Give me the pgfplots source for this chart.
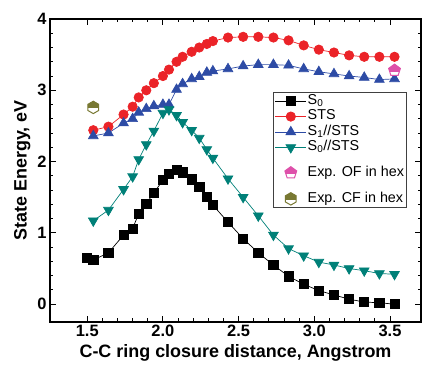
\documentclass[border=0pt]{standalone}
\usepackage{fontspec}
\setmainfont{Liberation Sans}
\usepackage{pgfplots}
\pgfplotsset{compat=1.18}
\definecolor{cSTS}{RGB}{235,35,40}
\definecolor{cS1}{RGB}{45,75,165}
\definecolor{cS0S}{RGB}{0,128,120}
\definecolor{cOF}{RGB}{222,80,170}
\definecolor{cCF}{RGB}{120,120,50}
\pgfdeclareplotmark{halfpent}{%
  \def\hpath{\pgfpathmoveto{\pgfpointpolar{90}{\pgfplotmarksize}}%
   \pgfpathlineto{\pgfpointpolar{162}{\pgfplotmarksize}}%
   \pgfpathlineto{\pgfpointpolar{234}{\pgfplotmarksize}}%
   \pgfpathlineto{\pgfpointpolar{306}{\pgfplotmarksize}}%
   \pgfpathlineto{\pgfpointpolar{18}{\pgfplotmarksize}}%
   \pgfpathclose}%
  \pgfscope\pgfsetfillcolor{white}\hpath\pgfusepath{fill}\endpgfscope
  \pgfscope\pgfpathrectangle{\pgfpoint{-2\pgfplotmarksize}{-0.15\pgfplotmarksize}}{\pgfpoint{4\pgfplotmarksize}{3\pgfplotmarksize}}\pgfusepath{clip}\hpath\pgfusepath{fill}\endpgfscope
  \hpath\pgfusepath{stroke}%
}
\pgfdeclareplotmark{halfhex}{%
  \def\hpath{\pgfpathmoveto{\pgfpointpolar{90}{\pgfplotmarksize}}%
   \pgfpathlineto{\pgfpointpolar{150}{\pgfplotmarksize}}%
   \pgfpathlineto{\pgfpointpolar{210}{\pgfplotmarksize}}%
   \pgfpathlineto{\pgfpointpolar{270}{\pgfplotmarksize}}%
   \pgfpathlineto{\pgfpointpolar{330}{\pgfplotmarksize}}%
   \pgfpathlineto{\pgfpointpolar{30}{\pgfplotmarksize}}%
   \pgfpathclose}%
  \pgfscope\pgfsetfillcolor{white}\hpath\pgfusepath{fill}\endpgfscope
  \pgfscope\pgfpathrectangle{\pgfpoint{-2\pgfplotmarksize}{-0.05\pgfplotmarksize}}{\pgfpoint{4\pgfplotmarksize}{3\pgfplotmarksize}}\pgfusepath{clip}\hpath\pgfusepath{fill}\endpgfscope
  \hpath\pgfusepath{stroke}%
}
\begin{document}
\begin{tikzpicture}
\begin{axis}[
  scale only axis, width=371bp, height=303bp,
  xmin=1.254, xmax=3.705, ymin=-0.25, ymax=4,
  xtick={1.5,2.0,2.5,3.0,3.5}, ytick={0,1,2,3,4},
  minor x tick num=4, minor y tick num=4,
  tick align=inside, major tick length=6bp, minor tick length=3.5bp,
  axis line style={line width=1.3pt},
  every tick/.style={black, line width=0.9pt},
  xticklabel style={/pgf/number format/.cd, fixed, fixed zerofill, precision=1},
  /pgf/number format/assume math mode=true,
  tick label style={font=\fontsize{16.5}{18}\selectfont\bfseries},
  label style={font=\fontsize{18}{20}\selectfont\bfseries},
  xlabel={C-C ring closure distance, Angstrom},
  ylabel={State Energy, eV},
  legend image code/.code={\draw[mark repeat=2,mark phase=2] plot coordinates {(0cm,0cm)(0.55cm,0cm)(1.1cm,0cm)};},
  legend style={at={(0.601,0.759)}, anchor=north west, draw=black!75, line width=0.8pt,
    font=\fontsize{14.4}{16}\selectfont, inner xsep=1.5pt, inner ysep=1pt, row sep=0pt,
    cells={anchor=west}, nodes={inner sep=1pt, text height=10pt, text depth=3.5pt}},
]
\coordinate (bbsw) at ([xshift=-50bp,yshift=-51bp]rel axis cs:0,0);
\coordinate (bbne) at ([xshift=3bp,yshift=19bp]rel axis cs:1,1);
\addplot[black, line width=0.7pt, mark=square*, mark size=4.6bp, mark options={solid, fill=black}] coordinates {
(1.50,0.65)(1.54,0.62)(1.64,0.72)(1.74,0.97)(1.80,1.06)(1.84,1.27)(1.89,1.41)(1.94,1.56)
(2.00,1.74)(2.04,1.83)(2.09,1.88)(2.13,1.85)(2.19,1.75)(2.24,1.65)(2.29,1.50)(2.33,1.39)
(2.43,1.15)(2.53,0.92)(2.63,0.72)(2.73,0.55)(2.83,0.39)(2.93,0.28)(3.03,0.19)(3.13,0.13)
(3.23,0.07)(3.33,0.03)(3.43,0.02)(3.53,0.00)};
\addlegendentry{S\textsubscript{0}}
\addplot[cSTS, line width=0.7pt, mark=*, mark size=4.7bp, mark options={solid, fill=cSTS}] coordinates {
(1.54,2.44)(1.64,2.49)(1.74,2.66)(1.80,2.77)(1.84,2.90)(1.89,3.00)(1.94,3.10)
(2.00,3.20)(2.04,3.29)(2.09,3.40)(2.13,3.47)(2.19,3.54)(2.24,3.60)(2.29,3.65)(2.33,3.69)
(2.43,3.74)(2.53,3.75)(2.63,3.75)(2.73,3.74)(2.83,3.70)(2.93,3.63)(3.03,3.57)(3.13,3.53)
(3.23,3.49)(3.33,3.47)(3.43,3.47)(3.53,3.47)};
\addlegendentry{STS}
\addplot[cS1, line width=0.7pt, mark=triangle*, mark size=5.6bp, mark options={solid, fill=cS1}] coordinates {
(1.54,2.36)(1.64,2.40)(1.74,2.54)(1.80,2.60)(1.84,2.69)(1.89,2.74)(1.94,2.78)
(2.00,2.80)(2.04,2.80)(2.09,3.01)(2.13,3.09)(2.19,3.16)(2.24,3.19)(2.29,3.25)(2.33,3.27)
(2.43,3.30)(2.53,3.34)(2.63,3.36)(2.73,3.36)(2.83,3.35)(2.93,3.30)(3.03,3.26)(3.13,3.23)
(3.23,3.20)(3.33,3.18)(3.43,3.15)(3.53,3.16)};
\addlegendentry{S\textsubscript{1}//STS}
\addplot[cS0S, line width=0.7pt, mark=triangle*, mark size=5.6bp, mark options={solid, fill=cS0S, rotate=180}] coordinates {
(1.54,1.17)(1.64,1.32)(1.74,1.61)(1.80,1.79)(1.84,2.03)(1.89,2.24)(1.94,2.43)
(2.00,2.68)(2.04,2.73)(2.09,2.65)(2.13,2.55)(2.19,2.44)(2.24,2.33)(2.29,2.17)(2.33,2.05)
(2.43,1.76)(2.53,1.50)(2.63,1.24)(2.73,0.97)(2.83,0.78)(2.93,0.68)(3.03,0.59)(3.13,0.55)
(3.23,0.50)(3.33,0.47)(3.43,0.43)(3.53,0.42)};
\addlegendentry{S\textsubscript{0}//STS}
\addplot[only marks, draw=cOF, fill=cOF, line width=1pt, mark=halfpent, mark size=6.2bp,
  legend image code/.code={\draw plot coordinates {(0.55cm,0cm)};}] coordinates {(3.53,3.28)};
\addlegendentry{Exp. OF in hex}
\addplot[only marks, draw=cCF, fill=cCF, line width=1pt, mark=halfhex, mark size=6.2bp,
  legend image code/.code={\draw plot coordinates {(0.55cm,0cm)};}] coordinates {(1.54,2.76)};
\addlegendentry{Exp. CF in hex}
\end{axis}
\path (bbsw) rectangle (bbne);
\end{tikzpicture}
\end{document}
